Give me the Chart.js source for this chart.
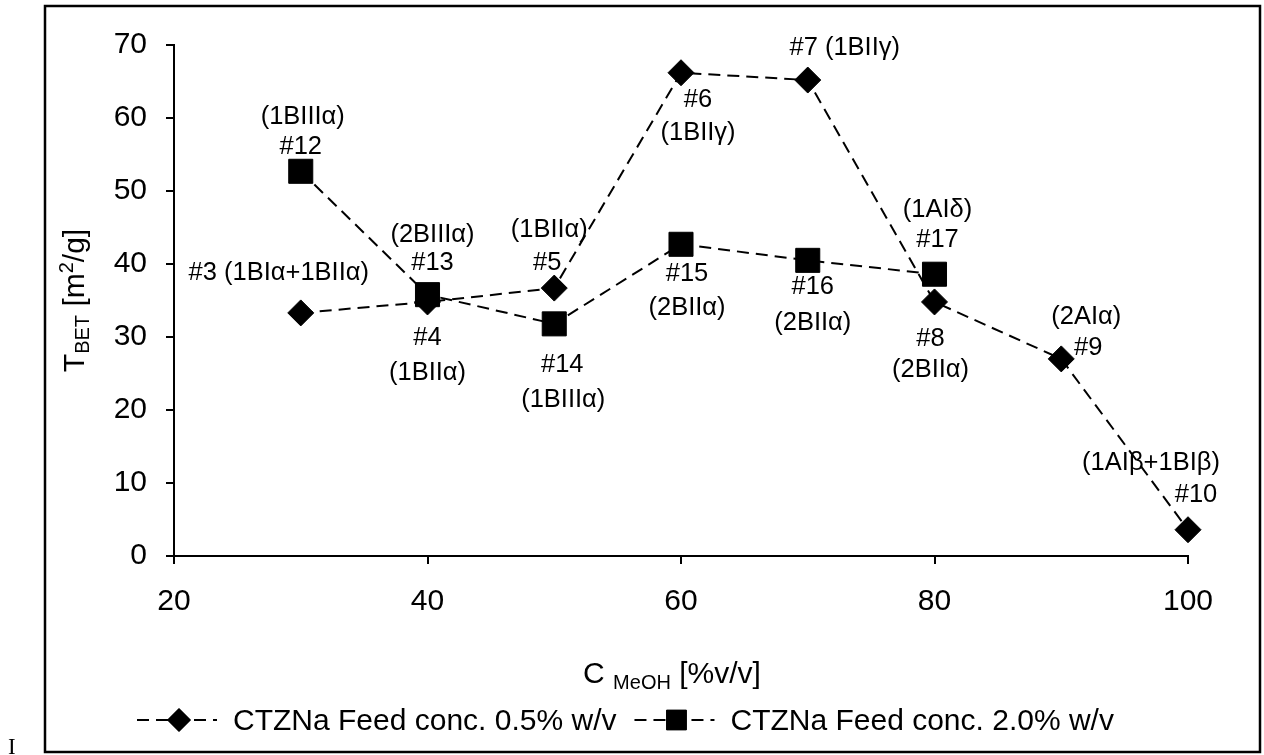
<!DOCTYPE html>
<html><head><meta charset="utf-8">
<script src="https://cdn.jsdelivr.net/npm/chart.js@4.4.0/dist/chart.umd.min.js"></script>
<style>html,body{margin:0;padding:0;background:#fff;}canvas{display:block}</style>
</head><body>
<canvas id="c" width="1264" height="755"></canvas>
<script>
// ---------- data ----------
const methanolConc05 = [30, 40, 50, 60, 70, 80, 90, 100];
const feed05Values   = [33.3, 34.8, 36.7, 66.2, 65.2, 34.8, 27.0, 3.6];
const feed05Labels   = [['#3 (1BIα+1BIIα)'], ['#4', '(1BIIα)'], ['(1BIIα)', '#5'], ['#6', '(1BIIγ)'],
                        ['#7 (1BIIγ)'], ['#8', '(2BIIα)'], ['(2AIα)', '#9'], ['(1AIβ+1BIβ)', '#10']];
const methanolConc20 = [30, 40, 50, 60, 70, 80];
const feed20Values   = [52.7, 35.8, 31.8, 42.7, 40.5, 38.6];
const feed20Labels   = [['(1BIIIα)', '#12'], ['(2BIIIα)', '#13'], ['#14', '(1BIIIα)'],
                        ['#15', '(2BIIα)'], ['#16', '(2BIIα)'], ['(1AIδ)', '#17']];
const seriesNames = ['CTZNa Feed conc. 0.5% w/v', 'CTZNa Feed conc. 2.0% w/v'];
const xTickValues = [20, 40, 60, 80, 100];
const yTickValues = [0, 10, 20, 30, 40, 50, 60, 70];

// ---------- label placement (pixel offsets from the point, per text line) ----------
const feed05Offsets = [[[-22,-40]], [[0,36],[0,71]], [[-5,-58],[-7,-25]], [[17,27],[17,60]],
                       [[37,-32]], [[-4,37],[-4,68]], [[25,-42],[27,-11]], [[-37,-67],[8,-35]]];
const feed20Offsets = [[[2,-54],[0,-24]], [[5,-60],[5,-32]], [[8,41],[9,76]],
                       [[6,30],[6,64]], [[5,27],[5,63]], [[3,-64],[3,-34]]];
const legendMarkerRadius = [11.5, 14];

const FONT = "'Liberation Sans', Arial, sans-serif";
Chart.defaults.font.family = FONT;
Chart.defaults.color = '#000';

const toPts = (xs, ys) => xs.map((x, i) => ({x: x, y: ys[i]}));

const labelPlugin = {
  id: 'pointLabels',
  afterDatasetsDraw(chart) {
    const ctx = chart.ctx;
    ctx.save();
    ctx.font = '25.5px ' + FONT;
    ctx.fillStyle = '#000';
    ctx.textAlign = 'center';
    ctx.textBaseline = 'middle';
    chart.data.datasets.forEach((ds, di) => {
      const meta = chart.getDatasetMeta(di);
      meta.data.forEach((el, i) => {
        const lines = ds.pointLabels[i];
        const offs = ds.labelOffsets[i];
        lines.forEach((t, k) => ctx.fillText(t, el.x + offs[k][0], el.y + offs[k][1]));
      });
    });
    ctx.restore();
  }
};

function drawRich(ctx, parts, cx, baseY) {
  let total = 0;
  parts.forEach(p => { ctx.font = p.size + 'px ' + FONT; total += ctx.measureText(p.t).width; });
  let x = cx - total / 2;
  ctx.textAlign = 'left';
  ctx.textBaseline = 'alphabetic';
  parts.forEach(p => {
    ctx.font = p.size + 'px ' + FONT;
    ctx.fillText(p.t, x, baseY + (p.dy || 0));
    x += ctx.measureText(p.t).width;
  });
}

const decorPlugin = {
  id: 'decor',
  beforeDraw(chart) {
    const ctx = chart.ctx;
    ctx.save();
    ctx.fillStyle = '#fff';
    ctx.fillRect(0, 0, chart.width, chart.height);
    ctx.restore();
  },
  afterDraw(chart) {
    const ctx = chart.ctx;
    const ca = chart.chartArea;
    ctx.save();
    ctx.fillStyle = '#000';
    // x axis title
    drawRich(ctx, [{t: 'C', size: 30}, {t: ' ', size: 30}, {t: 'MeOH', size: 20, dy: 6}, {t: ' [%v/v]', size: 30}],
             672, 683);
    // y axis title (rotated)
    ctx.save();
    ctx.translate(84, (ca.top + ca.bottom) / 2);
    ctx.rotate(-Math.PI / 2);
    drawRich(ctx, [{t: 'T', size: 30}, {t: 'BET', size: 20, dy: 5}, {t: ' [m', size: 30}, {t: '2', size: 20, dy: -11}, {t: '/g]', size: 30}], 0, 0);
    ctx.restore();

    // legend
    let x = 137;
    const ly = 720;
    chart.data.datasets.forEach((ds, di) => {
      ctx.save();
      ctx.strokeStyle = ds.borderColor;
      ctx.lineWidth = ds.borderWidth;
      ctx.setLineDash(ds.borderDash);
      ctx.beginPath();
      ctx.moveTo(x, ly); ctx.lineTo(x + 80, ly);
      ctx.stroke();
      ctx.restore();
      Chart.helpers.drawPoint(ctx, {pointStyle: ds.pointStyle, radius: legendMarkerRadius[di], rotation: 0, borderWidth: 1}, x + 42, ly);
      ctx.fillStyle = '#000';
      ctx.strokeStyle = '#000';
      ctx.fill();
      ctx.font = '30px ' + FONT;
      ctx.textAlign = 'left';
      ctx.textBaseline = 'middle';
      ctx.fillText(ds.label, x + 96, ly + 2);
      x += 96 + ctx.measureText(ds.label).width + 18;
    });

    // outer frame
    ctx.strokeStyle = '#000';
    ctx.lineWidth = 2.5;
    ctx.setLineDash([]);
    ctx.strokeRect(45, 6, 1215, 746);

    // stray glyph at lower left
    ctx.font = "23px 'Liberation Serif', serif";
    ctx.textAlign = 'left';
    ctx.textBaseline = 'alphabetic';
    ctx.fillText('I', 8, 754);
    ctx.restore();
  }
};

const baseDs = {
  showLine: true,
  borderColor: '#000',
  backgroundColor: '#000',
  borderWidth: 2,
  borderDash: [12, 7],
  pointBackgroundColor: '#000',
  pointBorderColor: '#000',
  pointBorderWidth: 1,
  clip: false,
  tension: 0
};

new Chart(document.getElementById('c'), {
  type: 'scatter',
  data: {
    datasets: [
      Object.assign({}, baseDs, {
        label: seriesNames[0],
        data: toPts(methanolConc05, feed05Values),
        pointStyle: 'rectRot', pointRadius: 13, pointHoverRadius: 13,
        pointLabels: feed05Labels, labelOffsets: feed05Offsets,
        order: 2
      }),
      Object.assign({}, baseDs, {
        label: seriesNames[1],
        data: toPts(methanolConc20, feed20Values),
        pointStyle: 'rect', pointRadius: 17, pointHoverRadius: 17,
        pointLabels: feed20Labels, labelOffsets: feed20Offsets,
        order: 1
      })
    ]
  },
  options: {
    responsive: false,
    animation: false,
    devicePixelRatio: 1,
    layout: {padding: {left: 0, right: 76, top: 45, bottom: 0}},
    plugins: {legend: {display: false}, tooltip: {enabled: false}},
    events: [],
    scales: {
      x: {
        type: 'linear', min: 20, max: 100,
        afterBuildTicks: s => { s.ticks = xTickValues.map(v => ({value: v})); },
        afterFit: s => { s.height = 755 - 556; },
        grid: {drawOnChartArea: false, drawTicks: true, tickLength: 8, color: '#000', lineWidth: 2},
        border: {display: true, color: '#000', width: 2},
        ticks: {font: {size: 30}, color: '#000', padding: 20, maxRotation: 0}
      },
      y: {
        type: 'linear', min: 0, max: 70,
        afterBuildTicks: s => { s.ticks = yTickValues.map(v => ({value: v})); },
        afterFit: s => { s.width = 174; },
        grid: {drawOnChartArea: false, drawTicks: true, tickLength: 8, color: '#000', lineWidth: 2},
        border: {display: true, color: '#000', width: 2},
        ticks: {font: {size: 30}, color: '#000', padding: 19}
      }
    }
  },
  plugins: [decorPlugin, labelPlugin]
});
</script>
</body></html>
